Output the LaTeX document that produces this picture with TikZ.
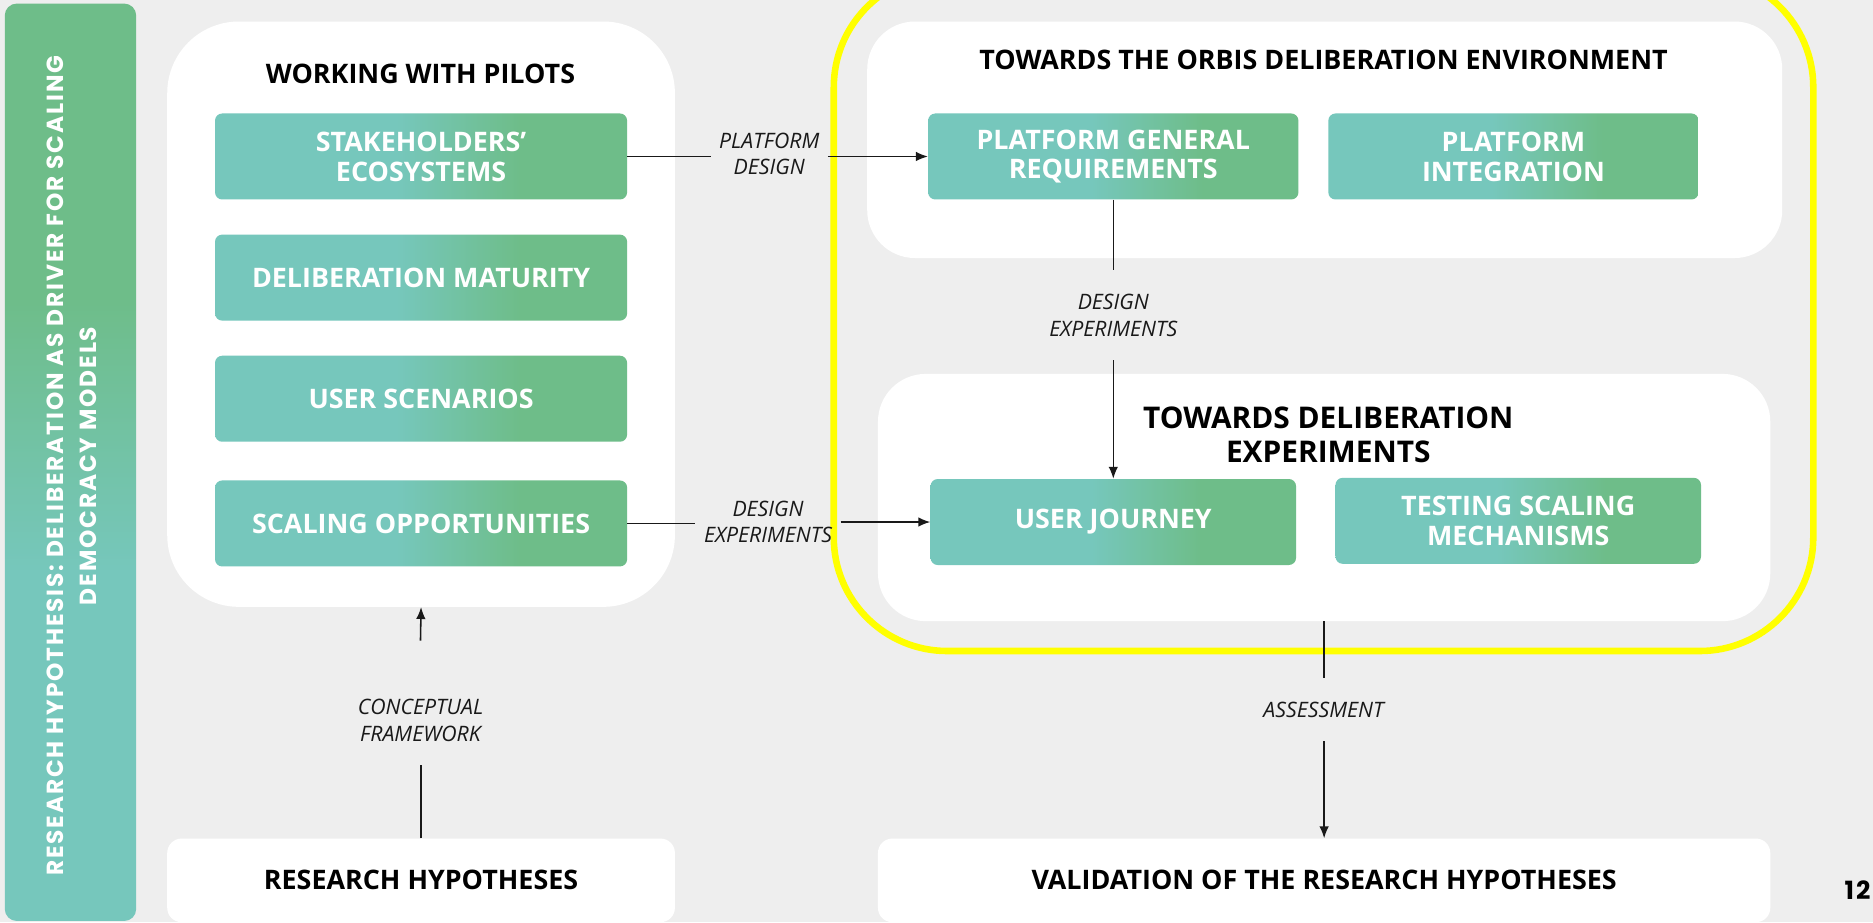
\documentclass[tikz,border=0pt]{standalone}
\usepackage{fontspec}
\setmainfont{Open Sans}
\newfontfamily\barfont{Poppins}[LetterSpace=8]
\usepackage{tikz}
\usetikzlibrary{arrows.meta, positioning}
\usepackage{xcolor}
\definecolor{tealc}{RGB}{118,199,188}
\definecolor{greenc}{RGB}{110,189,137}
\definecolor{bgc}{RGB}{238,238,238}
\definecolor{yellowc}{RGB}{255,255,0}
\pgfdeclarehorizontalshading{boxgrad}{100bp}{color(0bp)=(tealc); color(47bp)=(tealc); color(62bp)=(greenc); color(100bp)=(greenc)}
\pgfdeclareverticalshading{bargrad}{100bp}{color(0bp)=(tealc); color(44bp)=(tealc); color(59bp)=(greenc); color(100bp)=(greenc)}

\begin{document}
\begin{tikzpicture}[x=1pt, y=-1pt,
  node distance=29pt,
  stepbox/.style={rectangle, rounded corners=6pt, shading=boxgrad, minimum height=72pt, text=white, align=center, font=\fontsize{22.5}{25}\selectfont\bfseries, inner sep=0pt},
  panel/.style={rectangle, fill=white, inner sep=0pt},
  ttl/.style={align=center, font=\fontsize{22.5}{25}\selectfont\bfseries},
  lbl/.style={align=center, font=\fontsize{17.8}{22}\selectfont\itshape, text=black!90, inner xsep=7pt, inner ysep=20pt},
  conn/.style={line width=1.3pt, draw=black!90},
  arr/.style={conn, -{Latex[length=10pt,width=8pt]}}
]
\path[use as bounding box, fill=bgc] (0,0) rectangle (1568,772);

\node[rectangle, rounded corners=10pt, shading=bargrad, minimum width=110pt, minimum height=768pt, inner sep=0pt] (bar) at (59,387) {};
\node[rotate=90, text=white, align=center, font=\barfont\fontsize{19.5}{28}\selectfont\bfseries] (bartxt) at (60,390) {RESEARCH HYPOTHESIS: DELIBERATION AS DRIVER FOR SCALING\\DEMOCRACY MODELS};

\draw[yellowc, line width=5.5pt, rounded corners=95pt] (698,-22) rectangle (1518,545);

\node[panel, rounded corners=60pt, minimum width=425pt, minimum height=490pt] (pilots) at (352.5,263) {};
\node[ttl] (pilotsttl) at (352,62) {WORKING WITH PILOTS};
\node[stepbox, minimum width=345pt] (stake) at (352.5,131) {STAKEHOLDERS’\\ECOSYSTEMS};
\node[stepbox, minimum width=345pt, below=of stake] (matur) {DELIBERATION MATURITY};
\node[stepbox, minimum width=345pt, below=of matur] (scen) {USER SCENARIOS};
\node[stepbox, minimum width=345pt, below=32pt of scen] (scal) {SCALING OPPORTUNITIES};

\node[panel, rounded corners=40pt, minimum width=766pt, minimum height=198pt] (env) at (1109,117) {};
\node[ttl] (envttl) at (1108,50) {TOWARDS THE ORBIS DELIBERATION ENVIRONMENT};
\node[stepbox, minimum width=310pt] (req) at (932,131) {PLATFORM GENERAL\\REQUIREMENTS};
\node[stepbox, minimum width=310pt] (integ) at (1267,131) {PLATFORM\\INTEGRATION};

\node[panel, rounded corners=40pt, minimum width=747pt, minimum height=207pt] (exp) at (1108.5,416.5) {};
\node[ttl, font=\fontsize{25}{28}\selectfont\bfseries] (expttl) at (1112,364) {TOWARDS DELIBERATION\\EXPERIMENTS};
\node[stepbox, minimum width=306pt] (journey) at (932,437) {USER JOURNEY};
\node[stepbox, minimum width=306pt] (testing) at (1271,436) {TESTING SCALING\\MECHANISMS};

\node[panel, rounded corners=12pt, minimum width=425pt, minimum height=70pt, font=\fontsize{22.5}{25}\selectfont\bfseries] (hyp) at (352.5,737) {RESEARCH HYPOTHESES};
\node[panel, rounded corners=12pt, minimum width=747pt, minimum height=70pt, font=\fontsize{22.5}{25}\selectfont\bfseries] (val) at (1108.5,737) {VALIDATION OF THE RESEARCH HYPOTHESES};
\node[font=\barfont\fontsize{21}{22}\selectfont\bfseries] (pgnum) at (1555,745) {12};

\node[lbl] (pd) at (644,129) {PLATFORM\\DESIGN};
\node[lbl] (de1) at (643,437) {DESIGN\\EXPERIMENTS};
\node[lbl] (de2) at (932,264) {DESIGN\\EXPERIMENTS};
\node[lbl] (cf) at (352,603) {CONCEPTUAL\\FRAMEWORK};
\node[lbl] (as) at (1108,594) {ASSESSMENT};

\draw[conn] (stake.east) -- (stake.east -| pd.west);
\draw[arr] (pd.east |- req.west) -- (req.west);
\draw[conn] (scal.east) -- (scal.east -| de1.west);
\draw[arr] (de1.east |- journey.west) -- (journey.west);
\draw[conn] (req.south) -- (req.south |- de2.north);
\draw[arr] (de2.south -| journey.north) -- (journey.north);
\draw[conn] (hyp.north) -- (hyp.north |- cf.south);
\draw[arr] ([yshift=29pt]cf.north) -- (pilots.south);
\draw[conn] (exp.south) -- (exp.south |- as.north);
\draw[arr] (as.south -| val.north) -- (val.north);
\end{tikzpicture}
\end{document}
